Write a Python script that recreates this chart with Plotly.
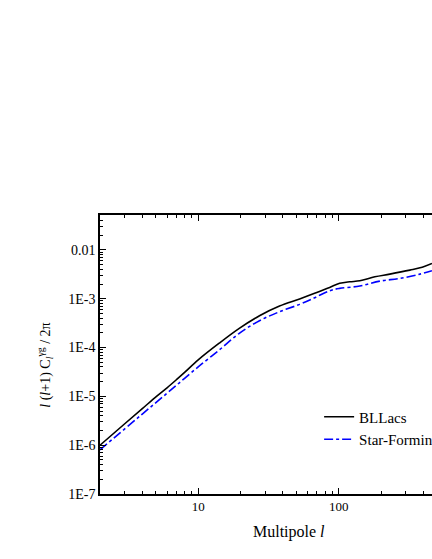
import numpy as np
import plotly.graph_objects as go

# multipole l and l(l+1)C_l/2pi for each source class
l_bllacs = [2, 3, 4, 5, 6, 7, 8, 10, 14.1, 19.6, 27.3, 37.9, 52.7, 67.4, 86.2,
            101.6, 119.9, 141.3, 180.8, 231, 321, 379, 461]
c_bllacs = [1.0e-6, 2.75e-6, 5.6e-6, 9.8e-6, 1.5e-5, 2.2e-5, 3.1e-5, 5.6e-5,
            1.23e-4, 2.48e-4, 4.49e-4, 7.1e-4, 9.9e-4, 1.29e-3, 1.71e-3,
            2.07e-3, 2.23e-3, 2.33e-3, 2.82e-3, 3.2e-3, 3.86e-3, 4.3e-3, 5.3e-3]

l_sf = [2, 3, 4, 5, 6, 7, 8, 10, 14.1, 19.6, 27.3, 37.9, 52.7, 67.4, 86.2,
        101.6, 141.3, 196, 273, 379, 461]
c_sf = [8.05e-7, 2.16e-6, 4.34e-6, 7.46e-6, 1.16e-5, 1.69e-5, 2.34e-5, 4.03e-5,
        8.9e-5, 1.96e-4, 3.55e-4, 5.42e-4, 7.67e-4, 1.05e-3, 1.46e-3,
        1.63e-3, 1.82e-3, 2.3e-3, 2.61e-3, 3.2e-3, 3.74e-3]

y_tickvals = [1e-7, 1e-6, 1e-5, 1e-4, 1e-3, 1e-2]
y_ticktext = ["1E-7", "1E-6", "1E-5", "1E-4", "1E-3", "0.01"]
x_tickvals = [10, 100, 1000]
x_ticktext = ["10", "100", "1000"]

FONT = "Liberation Serif, Times New Roman, serif"

fig = go.Figure()
fig.add_trace(go.Scatter(x=l_bllacs, y=c_bllacs, mode="lines", name="BLLacs",
                         line=dict(color="black", width=1.6, shape="spline")))
fig.add_trace(go.Scatter(x=l_sf, y=c_sf, mode="lines", name="Star-Forming",
                         line=dict(color="#0000ff", width=1.6, dash="dashdot",
                                   shape="spline")))

fig.update_xaxes(
    type="log", range=[np.log10(2), 2.664],
    tickvals=x_tickvals, ticktext=x_ticktext,
    ticks="inside", ticklen=6, tickwidth=1, tickcolor="black",
    minor=dict(ticks="inside", ticklen=3, tickcolor="black", dtick="D1"),
    showline=True, linecolor="black", linewidth=1.5, mirror="ticks",
    showgrid=False, zeroline=False,
    tickfont=dict(family=FONT, size=13, color="black"),
)
fig.update_yaxes(
    type="log", range=[-7, -1.284],
    tickvals=y_tickvals, ticktext=y_ticktext,
    ticks="inside", ticklen=6, tickwidth=1, tickcolor="black",
    minor=dict(ticks="inside", ticklen=3, tickcolor="black", dtick="D1"),
    showline=True, linecolor="black", linewidth=1.5, mirror=False,
    showgrid=False, zeroline=False,
    tickfont=dict(family=FONT, size=14, color="black"),
)

fig.add_annotation(text="Multipole <i>l</i>", xref="paper", yref="paper",
                   x=0.569, y=-0.136, yanchor="middle", showarrow=False,
                   font=dict(family=FONT, size=16, color="black"))
fig.add_annotation(
    text="<i>l</i> (<i>l</i>+1) C<sub><i>l</i></sub><sup>γg</sup> / 2π",
    xref="paper", yref="paper", x=-0.2, y=0.462, textangle=-90,
    showarrow=False, font=dict(family=FONT, size=14, color="black"))

fig.update_layout(
    width=432, height=559,
    margin=dict(l=100, r=0, t=215, b=65, autoexpand=False),
    plot_bgcolor="white", paper_bgcolor="white",
    showlegend=True,
    legend=dict(x=0.66, y=0.335, xanchor="left", yanchor="top",
                bgcolor="rgba(0,0,0,0)", tracegroupgap=0,
                font=dict(family=FONT, size=15, color="black")),
)

# drop the default page margin so the figure fills the window exactly
fig.write_html(
    "out.html",
    config={"displayModeBar": False},
    post_script="document.body.style.margin='0';"
                "document.body.style.overflow='hidden';",
)
